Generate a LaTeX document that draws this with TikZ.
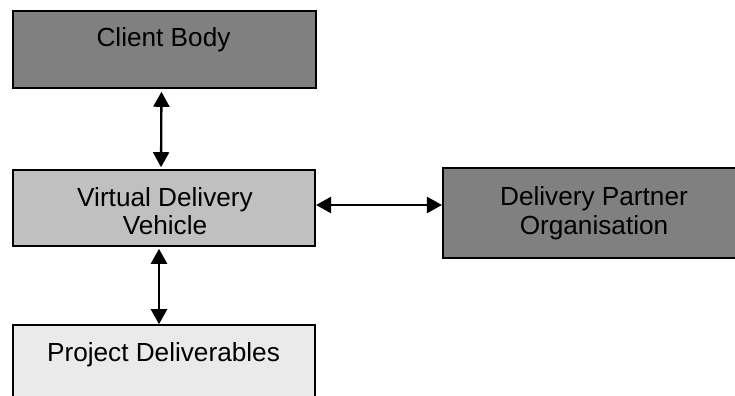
\documentclass[tikz,border=0pt]{standalone}
\usepackage{fontspec}
\setmainfont{Liberation Sans}
\usepackage{xcolor}
\definecolor{boxdark}{RGB}{128,128,128}
\definecolor{boxmid}{RGB}{192,192,192}
\definecolor{boxlight}{RGB}{234,234,234}
\usetikzlibrary{arrows.meta,positioning,calc}

\begin{document}
\begin{tikzpicture}[
    orgbox/.style={rectangle, draw=black, line width=0.9pt, minimum width=6.05cm,
                   minimum height=1.54cm, inner sep=0pt},
    boxtext/.style={inner sep=0pt, align=center, font=\fontsize{14.9}{16.1}\selectfont},
    link/.style={{Triangle[width=0.32cm,length=0.3cm]}-{Triangle[width=0.32cm,length=0.3cm]},
                 line width=1.3pt}
  ]
    \useasboundingbox (0,0) rectangle (14.7,-7.92);

    \node[orgbox, fill=boxdark] (client) at (3.29,-0.99) {};
    \node[orgbox, fill=boxmid, minimum height=1.52cm] (vdv) at (3.28,-4.16) {};
    \node[orgbox, fill=boxdark, minimum height=1.8cm] (partner) at (11.88,-4.26) {};
    \node[orgbox, fill=boxlight] (deliv) at (3.28,-7.27) {};

    % Box texts
    \node[boxtext, anchor=base] (client-t) at (3.27,-0.933) {Client Body};
    \node[boxtext] (vdv-t) at (3.30,-4.227) {Virtual Delivery\\Vehicle};
    \node[boxtext] (partner-t) at (11.88,-4.266) {Delivery Partner\\Organisation};
    \node[boxtext, anchor=base] (deliv-t) at (3.27,-7.233) {Project Deliverables};

    \draw[link, shorten <=0.06cm, shorten >=0.04cm]
      ($(client.south)+(-0.06,0)$) -- ($(vdv.north)+(-0.06,0)$);
    \draw[link] ($(vdv.east)+(0,0.06)$) -- (partner.west |- {$(vdv.east)+(0,0.06)$});
    \draw[link, shorten <=0.04cm] ($(vdv.south)+(-0.1,0)$) -- ($(deliv.north)+(-0.1,0)$);
\end{tikzpicture}
\end{document}
